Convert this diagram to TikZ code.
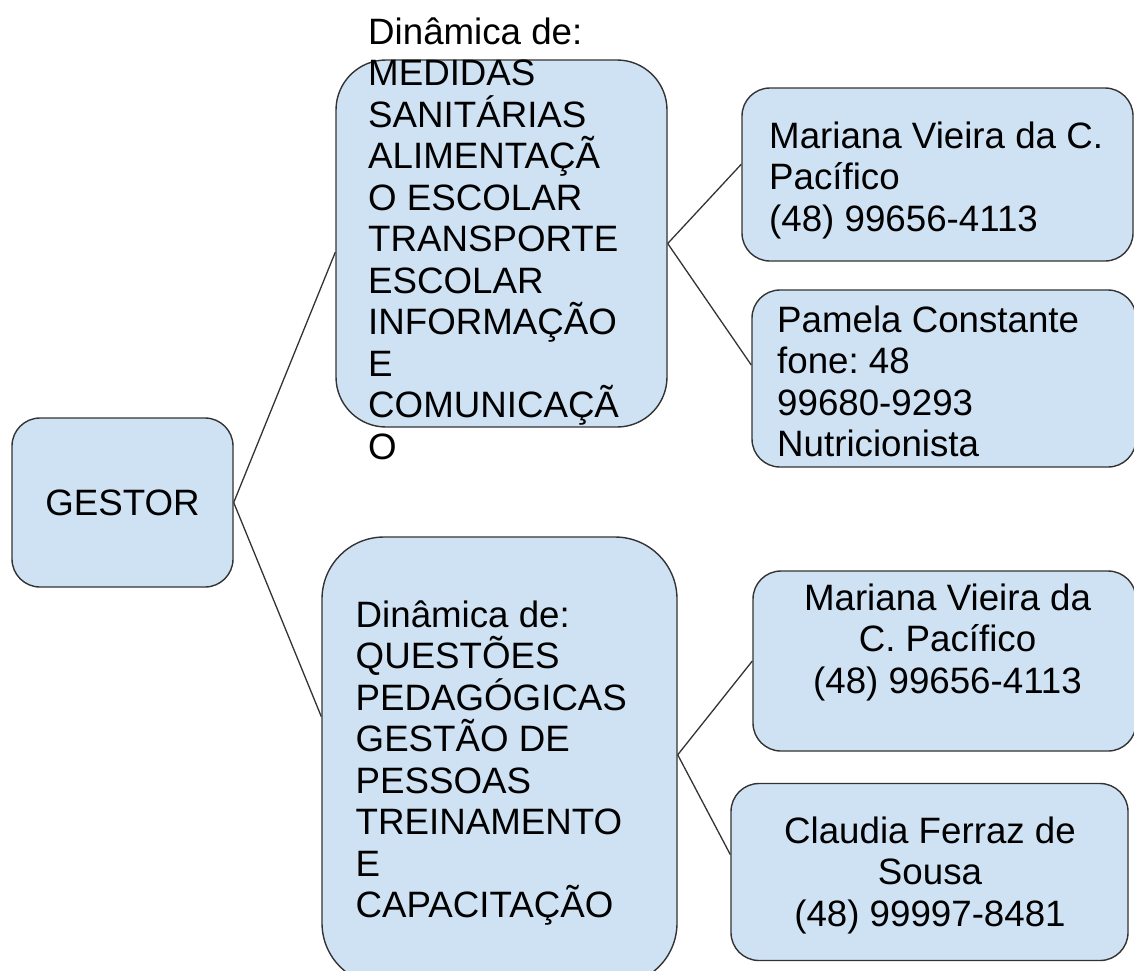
\documentclass[tikz,border=0pt]{standalone}
\usepackage{fontspec}
\setmainfont{Liberation Sans}
\usepackage{tikz}
\frenchspacing

\definecolor{bleuclair}{HTML}{CFE2F3}
\definecolor{bordure}{HTML}{333333}

% Styles des boîtes, des textes et des liens
\tikzset{
	boite/.style={draw=bordure,fill=bleuclair,line width=1.4pt,rounded corners=#1,inner sep=0pt},
	texte/.style={font=\fontsize{36.7pt}{41.5pt}\selectfont,inner sep=0pt},
	lien/.style={draw=bordure,line width=1.3pt}
}
% Hauteur fixe de la première ligne
\newcommand{\premiereligne}{\rule{0pt}{30pt}}

\begin{document}
\begin{tikzpicture}[x=1pt,y=-1pt]
	%
	% Cadre
	\useasboundingbox (0,0) rectangle (1134,970);
	%
	% Boîtes
	\node[boite=28,texte,minimum width=221pt,minimum height=169pt] (gestor) at (122.5,502.5) {GESTOR};
	\node[boite=50,minimum width=331pt,minimum height=367pt] (medidas) at (501.5,243.5) {};
	\node[boite=62,minimum width=355pt,minimum height=448pt] (questoes) at (499.5,761) {};
	\node[boite=28,minimum width=391pt,minimum height=173pt] (mariana1) at (937.5,174.5) {};
	\node[boite=28,minimum width=384pt,minimum height=177pt] (pamela) at (944,378.5) {};
	\node[boite=28,minimum width=383pt,minimum height=180pt] (mariana2) at (944.5,661) {};
	\node[boite=28,minimum width=397pt,minimum height=177pt] (claudia) at (929.5,872) {};
	%
	% Liens
	\draw[lien] (gestor.east) -- (medidas.183);
	\draw[lien] (gestor.east) -- (questoes.166);
	\draw[lien] (medidas.east) -- (mariana1.177);
	\draw[lien] (medidas.east) -- (pamela.176);
	\draw[lien] (questoes.2) -- (mariana2.west);
	\draw[lien] (questoes.2) -- (claudia.175);
	%
	% Textes
	\node[texte,align=left,anchor=north west] (medidastxt) at (368,14) {\premiereligne Dinâmica de:\\MEDIDAS\\SANITÁRIAS\\ALIMENTAÇÃ\\O ESCOLAR\\TRANSPORTE\\ESCOLAR\\INFORMAÇÃO\\E\\COMUNICAÇÃ\\O};
	\node[texte,align=left,anchor=north west] (questoestxt) at (355.5,597) {\premiereligne Dinâmica de:\\QUESTÕES\\PEDAGÓGICAS\\GESTÃO DE\\PESSOAS\\TREINAMENTO\\E\\CAPACITAÇÃO};
	\node[texte,align=left,anchor=north west] (mariana1txt) at (769,118) {\premiereligne Mariana Vieira da C.\\Pacífico\\(48) 99656-4113};
	\node[texte,align=left,anchor=north west] (pamelatxt) at (777,302) {\premiereligne Pamela Constante\\fone: 48\\99680-9293\\Nutricionista};
	\node[texte,align=center,anchor=north] (mariana2txt) at (947.5,580) {\premiereligne Mariana Vieira da\\C. Pacífico\\(48) 99656-4113};
	\node[texte,align=center,anchor=north] (claudiatxt) at (930,813) {\premiereligne Claudia Ferraz de\\Sousa\\(48) 99997-8481};
\end{tikzpicture}
\end{document}
